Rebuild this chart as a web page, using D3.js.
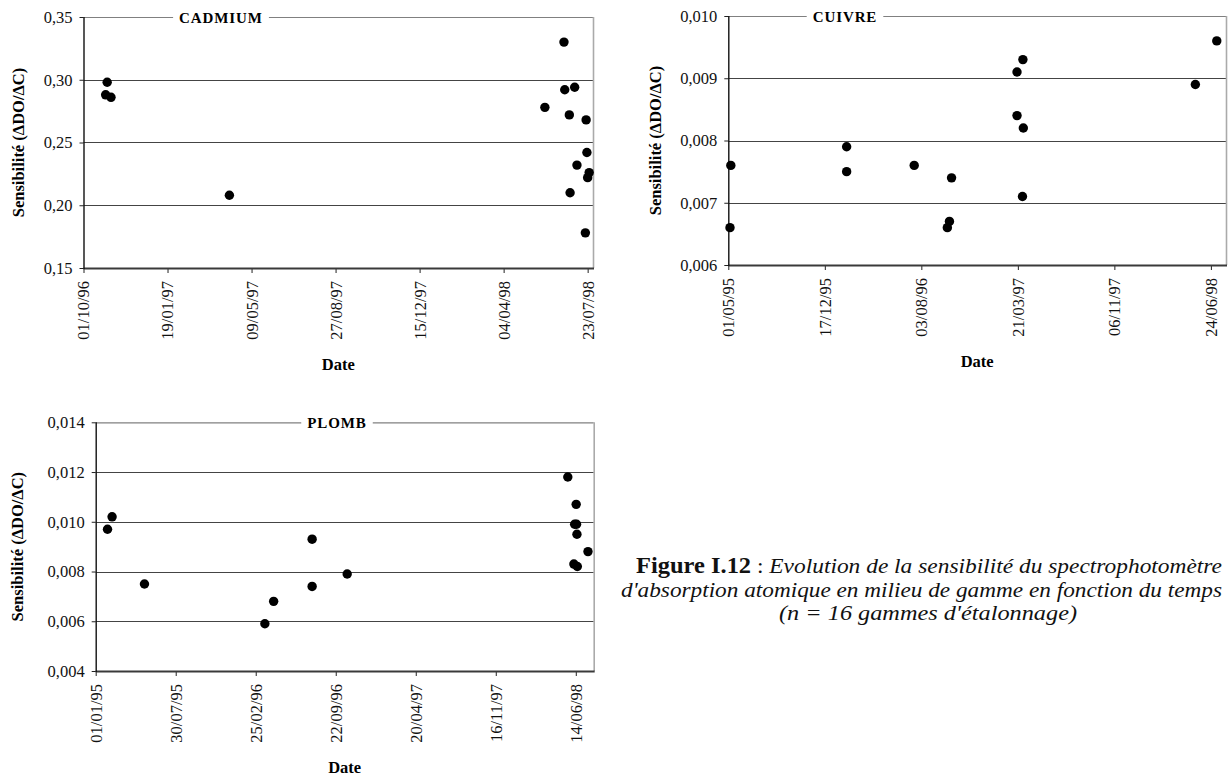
<!DOCTYPE html>
<html><head><meta charset="utf-8">
<script src="https://cdn.jsdelivr.net/npm/d3@7"></script>
<style>
html,body{margin:0;padding:0;background:#fff;}
svg{display:block;font-family:"Liberation Serif","Times New Roman",serif;}
</style></head>
<body><svg id="c" width="1230" height="776"></svg>
<script>
// ---------- DATA ----------
const cadDates  = ["30/10/96","01/11/96","06/11/96","10/04/97","28/05/98","22/06/98","23/06/98","29/06/98","30/06/98","06/07/98","09/07/98","20/07/98","21/07/98","22/07/98","23/07/98","25/07/98"];
const cadValues = [0.288,0.298,0.286,0.208,0.278,0.330,0.292,0.272,0.210,0.294,0.232,0.178,0.268,0.242,0.222,0.226];
const cadXTicks = ["01/10/96","19/01/97","09/05/97","27/08/97","15/12/97","04/04/98","23/07/98"];
const cadXDomain = ["01/10/96","30/07/98"];
const cadYTicks = [0.15,0.20,0.25,0.30,0.35];

const cuDates  = ["05/05/95","07/05/95","07/02/96","07/02/96","17/07/96","04/10/96","09/10/96","14/10/96","19/03/97","19/03/97","01/04/97","02/04/97","03/04/97","18/05/98","08/07/98"];
const cuValues = [0.0066,0.0076,0.0079,0.0075,0.0076,0.0066,0.0067,0.0074,0.0091,0.0084,0.0071,0.0093,0.0082,0.0089,0.0096];
const cuXTicks = ["01/05/95","17/12/95","03/08/96","21/03/97","06/11/97","24/06/98"];
const cuXDomain = ["01/05/95","30/07/98"];
const cuYTicks = [0.006,0.007,0.008,0.009,0.010];

const pbDates  = ["01/02/95","13/02/95","09/05/95","20/03/96","12/04/96","22/07/96","22/07/96","22/10/96","24/05/98","09/06/98","11/06/98","15/06/98","16/06/98","17/06/98","18/06/98","16/07/98"];
const pbValues = [0.0097,0.0102,0.0075,0.0059,0.0068,0.0093,0.0074,0.0079,0.0118,0.0083,0.0099,0.0107,0.0099,0.0095,0.0082,0.0088];
const pbXTicks = ["01/01/95","30/07/95","25/02/96","22/09/96","20/04/97","16/11/97","14/06/98"];
const pbXDomain = ["01/01/95","31/07/98"];
const pbYTicks = [0.004,0.006,0.008,0.010,0.012,0.014];

const yLabel = "Sensibilité (ΔDO/ΔC)";
const xLabel = "Date";

// ---------- DRAW ----------
const parse = d3.utcParse("%d/%m/%y");
const fmtDate = d3.utcFormat("%d/%m/%y");
const locale = d3.formatLocale({decimal: ",", thousands: " ", grouping: [3], currency: ["", ""]});
const svg = d3.select("#c");

function panel(o) {
  const x = d3.scaleUtc().domain(o.xDomain.map(parse)).range([o.left, o.right]);
  const y = d3.scaleLinear().domain([o.yTicks[0], o.yTicks[o.yTicks.length - 1]]).range([o.bottom, o.top]);
  const g = svg.append("g");

  // gridlines
  g.selectAll("line.grid").data(o.yTicks.slice(1, -1)).join("line")
    .attr("class", "grid")
    .attr("x1", o.left).attr("x2", o.right)
    .attr("y1", d => Math.round(y(d)) + 0.5).attr("y2", d => Math.round(y(d)) + 0.5)
    .attr("stroke", "#444").attr("stroke-width", 1.2);
  // top border
  g.append("line").attr("x1", o.left).attr("x2", o.right)
    .attr("y1", o.top + 0.5).attr("y2", o.top + 0.5).attr("stroke", "#808080").attr("stroke-width", 1.2);
  // right border
  g.append("line").attr("x1", o.right + 0.5).attr("x2", o.right + 0.5)
    .attr("y1", o.top).attr("y2", o.bottom).attr("stroke", "#aaa").attr("stroke-width", 1.6);

  // y axis
  const ya = g.append("g").attr("transform", `translate(${o.left},0)`)
    .call(d3.axisLeft(y).tickValues(o.yTicks).tickSize(4).tickPadding(7).tickFormat(locale.format(o.yFmt)));
  ya.select(".domain").remove();
  ya.selectAll(".tick line").attr("stroke", "#222");
  ya.selectAll("text").attr("font-size", 16.5).attr("fill", "#111").attr("font-family", "Liberation Serif");

  // x axis
  const xa = g.append("g").attr("transform", `translate(0,${o.bottom})`)
    .call(d3.axisBottom(x).tickValues(o.xTicks.map(parse)).tickSize(5).tickFormat(fmtDate));
  xa.select(".domain").remove();
  xa.selectAll(".tick line").attr("stroke", "#222");
  xa.selectAll("text")
    .attr("font-size", 16.5).attr("fill", "#111").attr("font-family", "Liberation Serif")
    .attr("text-anchor", "end").attr("transform", "rotate(-90)")
    .attr("x", -13).attr("y", 0).attr("dy", "0.33em");

  // axis lines
  g.append("line").attr("x1", o.left).attr("x2", o.right + 1)
    .attr("y1", o.bottom + 0.5).attr("y2", o.bottom + 0.5).attr("stroke", "#3a3a3a").attr("stroke-width", 2);
  g.append("line").attr("x1", o.left + 0.5).attr("x2", o.left + 0.5)
    .attr("y1", o.top).attr("y2", o.bottom + 1).attr("stroke", "#111").attr("stroke-width", 1.4);

  // title with white background
  const t = g.append("text").attr("x", o.titleX).attr("y", o.top + 5.5)
    .attr("text-anchor", "middle").attr("font-weight", "bold").attr("font-size", 15)
    .attr("letter-spacing", 0.9).text(o.title);
  const bb = t.node().getBBox();
  g.insert("rect", () => t.node()).attr("x", bb.x - 6).attr("y", o.top - 2).attr("width", bb.width + 12).attr("height", 4).attr("fill", "#fff");

  // points
  const pts = o.dates.map((d, i) => ({d: parse(d), v: o.values[i]}));
  g.selectAll("circle").data(pts).join("circle")
    .attr("cx", p => x(p.d)).attr("cy", p => y(p.v)).attr("r", 4.7).attr("fill", "#000");

  // axis titles
  g.append("text").attr("transform", `translate(${o.yLabelX},${(o.top + o.bottom) / 2}) rotate(-90)`)
    .attr("text-anchor", "middle").attr("dy", "0.35em").attr("font-weight", "bold").attr("font-size", 16.5).text(yLabel);
  g.append("text").attr("x", (o.left + o.right) / 2).attr("y", o.bottom + 102)
    .attr("text-anchor", "middle").attr("font-weight", "bold").attr("font-size", 16.5).text(xLabel);
}

panel({title: "CADMIUM", titleX: 221, dates: cadDates, values: cadValues, xTicks: cadXTicks, xDomain: cadXDomain,
  yTicks: cadYTicks, yFmt: ".2f", left: 83.5, right: 593, top: 17, bottom: 268, yLabelX: 18});
panel({title: "CUIVRE", titleX: 845, dates: cuDates, values: cuValues, xTicks: cuXTicks, xDomain: cuXDomain,
  yTicks: cuYTicks, yFmt: ".3f", left: 728.3, right: 1226, top: 16, bottom: 265, yLabelX: 655});
panel({title: "PLOMB", titleX: 337, dates: pbDates, values: pbValues, xTicks: pbXTicks, xDomain: pbXDomain,
  yTicks: pbYTicks, yFmt: ".3f", left: 95.7, right: 593.7, top: 422.3, bottom: 671, yLabelX: 17});

// caption
const cap = svg.append("g").attr("font-family", "Liberation Serif").attr("font-size", 22).attr("fill", "#111");
const l1 = cap.append("text").attr("x", 929).attr("y", 573).attr("text-anchor", "middle")
  .attr("textLength", 586).attr("lengthAdjust", "spacingAndGlyphs");
l1.append("tspan").attr("font-weight", "bold").attr("font-size", 23).text("Figure I.12");
l1.append("tspan").text(" : ");
l1.append("tspan").attr("font-style", "italic").text("Evolution de la sensibilité du spectrophotomètre");
cap.append("text").attr("x", 921.5).attr("y", 597).attr("text-anchor", "middle").attr("font-style", "italic")
  .attr("textLength", 601).attr("lengthAdjust", "spacingAndGlyphs")
  .text("d'absorption atomique en milieu de gamme en fonction du temps");
cap.append("text").attr("x", 928).attr("y", 620).attr("text-anchor", "middle").attr("font-style", "italic")
  .attr("textLength", 298).attr("lengthAdjust", "spacingAndGlyphs")
  .text("(n = 16 gammes d'étalonnage)");
</script></body></html>
